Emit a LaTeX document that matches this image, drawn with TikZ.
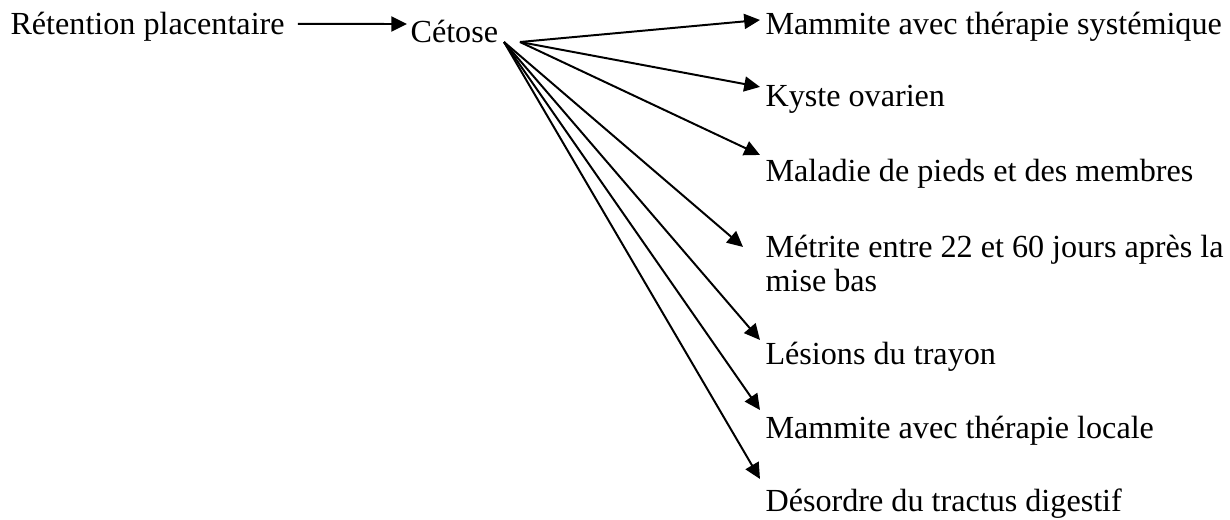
\documentclass[tikz,border=0pt]{standalone}
\usepackage{fontspec}
\setmainfont{Liberation Serif}
\usetikzlibrary{arrows.meta}
\begin{document}
\begin{tikzpicture}[
    lbl/.style={anchor=base west, inner sep=0pt, font=\fontsize{12.2}{12.9}\selectfont},
    arr/.style={-{Triangle[length=0.21cm, width=0.2cm]}, line width=0.75pt}]
    \useasboundingbox (0, 0) rectangle (16.4, 6.933);
    \node[lbl] (ret) at (0.133, 6.467) {Rétention placentaire};
    \node[lbl] (cet) at (5.467, 6.373) {Cétose};
    \node[lbl] (sys) at (10.2, 6.467) {Mammite avec thérapie systémique};
    \node[lbl] (kys) at (10.2, 5.507) {Kyste ovarien};
    \node[lbl] (mal) at (10.2, 4.507) {Maladie de pieds et des membres};
    \node[lbl, align=left] (met) at (10.2, 3.04) {Métrite entre 22 et 60 jours après la\\mise bas};
    \node[lbl] (les) at (10.2, 2.067) {Lésions du trayon};
    \node[lbl] (loc) at (10.2, 1.093) {Mammite avec thérapie locale};
    \node[lbl] (dig) at (10.2, 0.107) {Désordre du tractus digestif};
    \coordinate (o1) at (6.933, 6.373);
    \coordinate (o2) at (6.72, 6.373);
    \draw[arr] ([shift={(0.17, 0.147)}]ret.base east) -- ([shift={(-0.04, 0.24)}]cet.base west);
    \draw[arr] (o1) -- ([shift={(-0.067, 0.2)}]sys.base west);
    \draw[arr] (o1) -- ([shift={(-0.067, 0.267)}]kys.base west);
    \draw[arr] (o1) -- ([shift={(-0.067, 0.36)}]mal.base west);
    \draw[arr] (o2) -- ([shift={(-0.293, 0.6)}]met.base west);
    \draw[arr] (o2) -- ([shift={(-0.067, 0.333)}]les.base west);
    \draw[arr] (o2) -- ([shift={(-0.067, 0.373)}]loc.base west);
    \draw[arr] (o2) -- ([shift={(-0.067, 0.44)}]dig.base west);
\end{tikzpicture}
\end{document}
